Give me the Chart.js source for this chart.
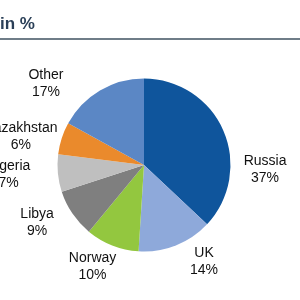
<!DOCTYPE html>
<html>
<head>
<meta charset="utf-8">
<script src="https://cdn.jsdelivr.net/npm/chart.js@4/dist/chart.umd.min.js"></script>
<style>
html,body{margin:0;padding:0;background:#fff;}
#wrap{position:relative;width:300px;height:300px;}
</style>
</head>
<body>
<div id="wrap"><canvas id="c" width="300" height="300"></canvas></div>
<script>
const titleText = "in %";
const categories = ["Russia", "UK", "Norway", "Libya", "Algeria", "Kazakhstan", "Other"];
const shares = [37, 14, 10, 9, 7, 6, 17];
const sliceColors = ["#0F559C", "#8EA9DA", "#93C73F", "#7F7F7F", "#BFBFBF", "#EA8A2C", "#5B87C5"];

// label placement: [angle in degrees clockwise from top, distance as multiple of radius]
const labelPlacement = [[92, 1.40], [148, 1.31], [207, 1.31], [242, 1.40], [266, 1.57], [283, 1.46], [310, 1.48]];

const decor = {
  id: 'decor',
  afterDraw(chart) {
    const ctx = chart.ctx;
    ctx.save();
    // title
    ctx.fillStyle = '#2A3F57';
    ctx.font = 'bold 17px "Liberation Sans", Arial, sans-serif';
    ctx.textAlign = 'left';
    ctx.textBaseline = 'middle';
    ctx.fillText(titleText, 0, 24);
    ctx.fillStyle = '#6F7D88';
    ctx.fillRect(0, 38, 300, 2);
    // labels
    const meta = chart.getDatasetMeta(0);
    ctx.fillStyle = '#111';
    ctx.font = '14px "Liberation Sans", Arial, sans-serif';
    ctx.textAlign = 'center';
    meta.data.forEach((arc, i) => {
      const p = labelPlacement[i];
      const a = p[0] * Math.PI / 180;
      const r = arc.outerRadius * p[1];
      const x = arc.x + r * Math.sin(a);
      const y = arc.y - r * Math.cos(a);
      ctx.fillText(categories[i], x, y - 8);
      ctx.fillText(shares[i] + '%', x, y + 9);
    });
    ctx.restore();
  }
};

new Chart(document.getElementById('c'), {
  type: 'pie',
  data: {
    labels: categories,
    datasets: [{
      data: shares,
      backgroundColor: sliceColors,
      borderWidth: 0
    }]
  },
  options: {
    responsive: false,
    animation: false,
    layout: { padding: { left: 57.5, right: 69.5, top: 78.5, bottom: 48.5 } },
    plugins: {
      legend: { display: false },
      tooltip: { enabled: false },
      title: { display: false }
    }
  },
  plugins: [decor]
});
</script>
</body>
</html>
